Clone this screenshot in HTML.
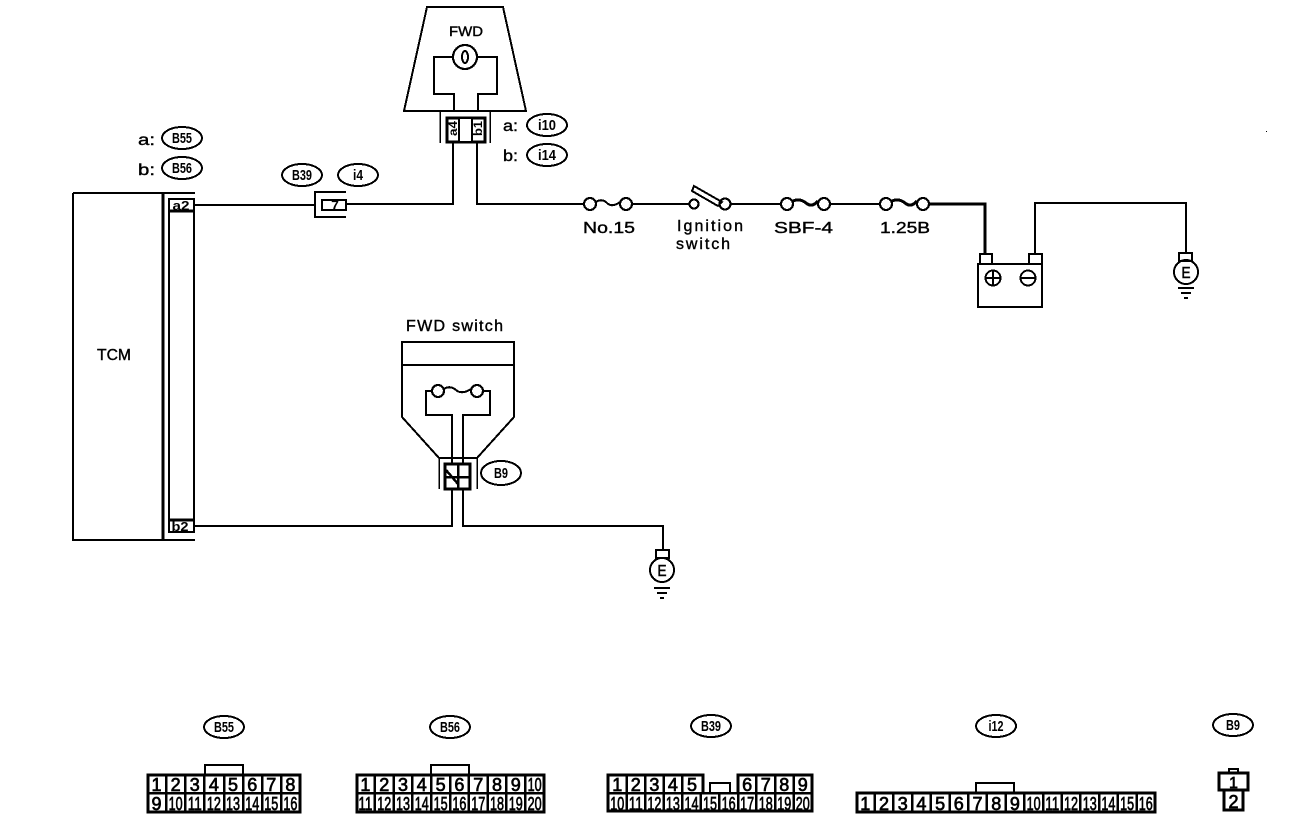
<!DOCTYPE html>
<html><head><meta charset="utf-8">
<style>
html,body{margin:0;padding:0;background:#fff;width:1312px;height:836px;overflow:hidden}
svg{display:block}
text{font-family:"Liberation Sans",sans-serif;fill:#000;stroke:none}
.l{font-size:16px;stroke:#000;stroke-width:.4px}
.o{font-size:15px;font-weight:bold;text-anchor:middle}
.d{font-size:18px;text-anchor:middle;stroke:#000;stroke-width:.7px}
.n{font-size:16px;text-anchor:middle;stroke:#000;stroke-width:.6px}
.s{fill:none;stroke:#000;stroke-width:2}
.t{fill:none;stroke:#000;stroke-width:3}
.c{fill:#fff;stroke:#000;stroke-width:2.2}
.v{fill:none;stroke:#000;stroke-width:2.5}
</style></head><body>
<svg width="1312" height="836" viewBox="0 0 1312 836" xmlns="http://www.w3.org/2000/svg" shape-rendering="crispEdges">
<!-- Lamp -->
<path class="s" d="M427 7H503L526 111H404Z"/>
<path class="s" d="M453 57H434V94H454V111M477 57H497V94H478V111"/>
<circle class="c" cx="465" cy="57" r="12"/>
<ellipse cx="465" cy="57" rx="3" ry="6" class="s"/>
<text class="l" x="449" y="36" font-size="14" textLength="34" lengthAdjust="spacingAndGlyphs" style="font-size:14px">FWD</text>
<path d="M440 112V143M490 112V143" stroke="#000" stroke-width="1.5" fill="none"/>
<rect class="t" x="447" y="118" width="38" height="24"/>
<rect x="459" y="118" width="13" height="24" fill="#fff" stroke="#000" stroke-width="2"/>
<text transform="translate(457 136) rotate(-90)" style="font-size:12px;font-weight:bold" textLength="15" lengthAdjust="spacingAndGlyphs">a4</text>
<text transform="translate(482 136) rotate(-90)" style="font-size:12px;font-weight:bold" textLength="15" lengthAdjust="spacingAndGlyphs">b1</text>
<path class="s" d="M453 142V204H347M477 142V204H584"/>
<text class="l" x="503" y="131" textLength="15" lengthAdjust="spacingAndGlyphs">a:</text>
<text class="l" x="503" y="161" textLength="15" lengthAdjust="spacingAndGlyphs">b:</text>
<ellipse class="s" cx="547" cy="125" rx="20" ry="11"/><text class="o" x="547" y="130" textLength="18" lengthAdjust="spacingAndGlyphs">i10</text>
<ellipse class="s" cx="547" cy="155" rx="20" ry="11"/><text class="o" x="547" y="160" textLength="18" lengthAdjust="spacingAndGlyphs">i14</text>
<!-- TCM -->
<path class="s" d="M73 193H195M73 193V540H195"/>
<path class="t" d="M163 193V540"/>
<rect class="s" x="169" y="199" width="25" height="333"/>
<path class="t" d="M169 211H194M169 520H194"/>
<text class="o" x="181" y="210" style="font-size:13px" textLength="17" lengthAdjust="spacingAndGlyphs">a2</text>
<text class="o" x="180" y="531" style="font-size:13px" textLength="17" lengthAdjust="spacingAndGlyphs">b2</text>
<text class="l" x="97" y="360" textLength="34" lengthAdjust="spacingAndGlyphs">TCM</text>
<text class="l" x="138" y="145" textLength="17" lengthAdjust="spacingAndGlyphs">a:</text>
<text class="l" x="138" y="175" textLength="17" lengthAdjust="spacingAndGlyphs">b:</text>
<ellipse class="s" cx="182" cy="138" rx="20" ry="11"/><text class="o" x="182" y="143" textLength="20" lengthAdjust="spacingAndGlyphs">B55</text>
<ellipse class="s" cx="182" cy="168" rx="20" ry="11"/><text class="o" x="182" y="173" textLength="20" lengthAdjust="spacingAndGlyphs">B56</text>
<ellipse class="s" cx="302" cy="175" rx="20" ry="11"/><text class="o" x="302" y="180" textLength="20" lengthAdjust="spacingAndGlyphs">B39</text>
<ellipse class="s" cx="358" cy="175" rx="20" ry="11"/><text class="o" x="358" y="180" textLength="10" lengthAdjust="spacingAndGlyphs">i4</text>
<path class="s" d="M194 205H314"/>
<path class="s" d="M346 192H315V217H346"/>
<rect class="s" x="322" y="200" width="24" height="10"/>
<text class="o" x="335" y="210" style="font-size:14px">7</text>
<!-- Fuses and switch -->
<circle class="c" cx="590" cy="204" r="6"/><circle class="c" cx="626" cy="204" r="6"/>
<path class="s" d="M596 202Q602 198 607 203T620 202"/>
<path class="s" d="M632 204H689"/>
<circle class="c" cx="694" cy="204" r="4.500"/><circle class="c" cx="725" cy="204" r="5.500"/>
<path class="s" d="M694 186L722 202L718 206L692 191Z"/>
<path class="s" d="M731 204H781"/>
<circle class="c" cx="787" cy="204" r="6"/><circle class="c" cx="824" cy="204" r="6"/>
<path class="t" d="M793 201Q800 198 806 203T818 201"/>
<path class="s" d="M830 204H880"/>
<circle class="c" cx="886" cy="204" r="6"/><circle class="c" cx="923" cy="204" r="6"/>
<path class="t" d="M892 201Q899 198 905 203T917 201"/>
<path class="t" d="M929 204H985V254"/>
<text class="l" x="583" y="233" textLength="52" lengthAdjust="spacingAndGlyphs">No.15</text>
<text class="l" x="677" y="231" textLength="66" lengthAdjust="spacing">Ignition</text>
<text class="l" x="676" y="249" textLength="54" lengthAdjust="spacing">switch</text>
<text class="l" x="774" y="233" textLength="59" lengthAdjust="spacingAndGlyphs">SBF-4</text>
<text class="l" x="880" y="233" textLength="50" lengthAdjust="spacingAndGlyphs">1.25B</text>
<!-- Battery -->
<rect class="s" x="978" y="264" width="64" height="43"/>
<rect class="s" x="980" y="254" width="12" height="10"/>
<rect class="s" x="1029" y="254" width="13" height="10"/>
<circle class="s" cx="993" cy="278" r="7.500"/><circle class="s" cx="1028" cy="278" r="7.500"/>
<path d="M985 278H1001M993 270V286M1020 278H1036" stroke="#000" stroke-width="2" fill="none"/>
<path class="s" d="M1035 254V203H1186V253"/>
<!-- Ground right -->
<rect class="s" x="1179" y="253" width="13" height="8"/>
<circle class="s" cx="1186" cy="272" r="12"/>
<text class="n" x="1186" y="278" textLength="9" lengthAdjust="spacingAndGlyphs">E</text>
<path d="M1178 288H1194M1181 293H1191M1184 298H1188" stroke="#000" stroke-width="2" fill="none"/>
<!-- FWD switch -->
<text class="l" x="406" y="331" textLength="97" lengthAdjust="spacing">FWD switch</text>
<path class="s" d="M402 365V342H514V365M402 365H514"/>
<path class="s" d="M402 365V417L439 458H477L514 417V365"/>
<circle class="c" cx="438" cy="391" r="6"/><circle class="c" cx="477" cy="391" r="6"/>
<path class="s" d="M444 389Q450 385 456 390T471 389"/>
<path class="s" d="M432 391H426V415H452V464M483 391H490V415H463V464"/>
<path d="M439 458V489M477 458V489" stroke="#000" stroke-width="1.500" fill="none"/>
<rect class="t" x="445" y="464" width="25" height="25" fill="#fff"/>
<path d="M458 464V489M445 477H470M446 470L458 484" stroke="#000" stroke-width="2.500" fill="none"/>
<ellipse class="s" cx="501" cy="473" rx="20" ry="12"/><text class="o" x="501" y="478" textLength="14" lengthAdjust="spacingAndGlyphs">B9</text>
<path class="s" d="M194 526H452V489M463 489V526H663V550"/>
<!-- Ground lower -->
<rect class="s" x="656" y="550" width="13" height="8"/>
<circle class="s" cx="662" cy="570" r="12"/>
<text class="n" x="662" y="576" textLength="9" lengthAdjust="spacingAndGlyphs">E</text>
<path d="M654 588H670M657 593H667M660 598H664" stroke="#000" stroke-width="2" fill="none"/>
<!-- B55 -->
<ellipse class="s" cx="224" cy="727" rx="20" ry="11"/><text class="o" x="224" y="732" textLength="20" lengthAdjust="spacingAndGlyphs">B55</text>
<path class="s" d="M205 775V765H243V775"/>
<rect class="t" x="148" y="775" width="152" height="37"/>
<path class="v" d="M148 793H300M166 775V812M185 775V812M204 775V812M224 775V812M243 775V812M262 775V812M281 775V812"/>
<text class="d" x="156.500" y="791">1</text><text class="d" x="175.600" y="791">2</text><text class="d" x="194.800" y="791">3</text><text class="d" x="213.900" y="791">4</text><text class="d" x="233" y="791">5</text><text class="d" x="252.200" y="791">6</text><text class="d" x="271.300" y="791">7</text><text class="d" x="290.400" y="791">8</text>
<text class="d" x="156.500" y="810">9</text>
<text class="d" x="175.600" y="810" textLength="14" lengthAdjust="spacingAndGlyphs">10</text><text class="d" x="194.800" y="810" textLength="14" lengthAdjust="spacingAndGlyphs">11</text><text class="d" x="213.900" y="810" textLength="14" lengthAdjust="spacingAndGlyphs">12</text><text class="d" x="233" y="810" textLength="14" lengthAdjust="spacingAndGlyphs">13</text><text class="d" x="252.200" y="810" textLength="14" lengthAdjust="spacingAndGlyphs">14</text><text class="d" x="271.300" y="810" textLength="14" lengthAdjust="spacingAndGlyphs">15</text><text class="d" x="290.400" y="810" textLength="14" lengthAdjust="spacingAndGlyphs">16</text>
<!-- B56 -->
<ellipse class="s" cx="450" cy="727" rx="20" ry="11"/><text class="o" x="450" y="732" textLength="20" lengthAdjust="spacingAndGlyphs">B56</text>
<path class="s" d="M431 775V765H469V775"/>
<rect class="t" x="357" y="775" width="187" height="37"/>
<path class="v" d="M357 793H544M374.800 775V812M393.600 775V812M412.400 775V812M431.200 775V812M450 775V812M468.800 775V812M487.600 775V812M506.400 775V812M525.200 775V812"/>
<text class="d" x="365.400" y="791">1</text><text class="d" x="384.200" y="791">2</text><text class="d" x="403" y="791">3</text><text class="d" x="421.800" y="791">4</text><text class="d" x="440.600" y="791">5</text><text class="d" x="459.400" y="791">6</text><text class="d" x="478.200" y="791">7</text><text class="d" x="497" y="791">8</text><text class="d" x="515.800" y="791">9</text><text class="d" x="534.600" y="791" textLength="14" lengthAdjust="spacingAndGlyphs">10</text>
<text class="d" x="365.400" y="810" textLength="14" lengthAdjust="spacingAndGlyphs">11</text><text class="d" x="384.200" y="810" textLength="14" lengthAdjust="spacingAndGlyphs">12</text><text class="d" x="403" y="810" textLength="14" lengthAdjust="spacingAndGlyphs">13</text><text class="d" x="421.800" y="810" textLength="14" lengthAdjust="spacingAndGlyphs">14</text><text class="d" x="440.600" y="810" textLength="14" lengthAdjust="spacingAndGlyphs">15</text><text class="d" x="459.400" y="810" textLength="14" lengthAdjust="spacingAndGlyphs">16</text><text class="d" x="478.200" y="810" textLength="14" lengthAdjust="spacingAndGlyphs">17</text><text class="d" x="497" y="810" textLength="14" lengthAdjust="spacingAndGlyphs">18</text><text class="d" x="515.800" y="810" textLength="14" lengthAdjust="spacingAndGlyphs">19</text><text class="d" x="534.600" y="810" textLength="14" lengthAdjust="spacingAndGlyphs">20</text>
<!-- B39 -->
<ellipse class="s" cx="711" cy="726" rx="20" ry="11"/><text class="o" x="711" y="731" textLength="20" lengthAdjust="spacingAndGlyphs">B39</text>
<path class="s" d="M710 793V783H730V793"/>
<path class="t" d="M608 793V775H703V793M738 793V775H812V793M608 793V811H812V793"/>
<path class="v" d="M608 793H812M626.600 775V811M645.100 775V811M663.700 775V811M682.200 775V811M703 775V793M700.800 793V811M719.300 793V811M738 775V811M756.400 775V811M775 775V811M793.500 775V811"/>
<text class="d" x="617.300" y="791">1</text><text class="d" x="635.800" y="791">2</text><text class="d" x="654.400" y="791">3</text><text class="d" x="672.900" y="791">4</text><text class="d" x="692" y="791">5</text><text class="d" x="747.100" y="791">6</text><text class="d" x="765.700" y="791">7</text><text class="d" x="784.200" y="791">8</text><text class="d" x="802.800" y="791">9</text>
<text class="d" x="617.300" y="810" textLength="14" lengthAdjust="spacingAndGlyphs">10</text><text class="d" x="635.800" y="810" textLength="14" lengthAdjust="spacingAndGlyphs">11</text><text class="d" x="654.400" y="810" textLength="14" lengthAdjust="spacingAndGlyphs">12</text><text class="d" x="672.900" y="810" textLength="14" lengthAdjust="spacingAndGlyphs">13</text><text class="d" x="691.500" y="810" textLength="14" lengthAdjust="spacingAndGlyphs">14</text><text class="d" x="710" y="810" textLength="14" lengthAdjust="spacingAndGlyphs">15</text><text class="d" x="728.600" y="810" textLength="14" lengthAdjust="spacingAndGlyphs">16</text><text class="d" x="747.100" y="810" textLength="14" lengthAdjust="spacingAndGlyphs">17</text><text class="d" x="765.700" y="810" textLength="14" lengthAdjust="spacingAndGlyphs">18</text><text class="d" x="784.200" y="810" textLength="14" lengthAdjust="spacingAndGlyphs">19</text><text class="d" x="802.800" y="810" textLength="14" lengthAdjust="spacingAndGlyphs">20</text>
<!-- i12 -->
<ellipse class="s" cx="996" cy="726" rx="20" ry="11"/><text class="o" x="996" y="731" textLength="15" lengthAdjust="spacingAndGlyphs">i12</text>
<path class="s" d="M976 793V783H1014V793"/>
<rect class="t" x="857" y="793" width="298" height="19"/>
<path class="v" d="M874.700 793V812M893.400 793V812M912.100 793V812M930.800 793V812M949.500 793V812M968.200 793V812M986.900 793V812M1005.600 793V812M1024.300 793V812M1043 793V812M1061.700 793V812M1080.400 793V812M1099.100 793V812M1117.800 793V812M1136.500 793V812"/>
<text class="d" x="865.300" y="810">1</text><text class="d" x="884" y="810">2</text><text class="d" x="902.700" y="810">3</text><text class="d" x="921.400" y="810">4</text><text class="d" x="940.100" y="810">5</text><text class="d" x="958.800" y="810">6</text><text class="d" x="977.500" y="810">7</text><text class="d" x="996.200" y="810">8</text><text class="d" x="1014.900" y="810">9</text>
<text class="d" x="1033.600" y="810" textLength="14" lengthAdjust="spacingAndGlyphs">10</text><text class="d" x="1052.300" y="810" textLength="14" lengthAdjust="spacingAndGlyphs">11</text><text class="d" x="1071" y="810" textLength="14" lengthAdjust="spacingAndGlyphs">12</text><text class="d" x="1089.700" y="810" textLength="14" lengthAdjust="spacingAndGlyphs">13</text><text class="d" x="1108.400" y="810" textLength="14" lengthAdjust="spacingAndGlyphs">14</text><text class="d" x="1127.100" y="810" textLength="14" lengthAdjust="spacingAndGlyphs">15</text><text class="d" x="1145.800" y="810" textLength="14" lengthAdjust="spacingAndGlyphs">16</text>
<!-- B9 -->
<ellipse class="s" cx="1233" cy="725" rx="20" ry="11"/><text class="o" x="1233" y="730" textLength="14" lengthAdjust="spacingAndGlyphs">B9</text>
<rect class="s" x="1229" y="769" width="9" height="4"/>
<rect class="t" x="1219" y="773" width="29" height="17"/>
<rect class="t" x="1224" y="790" width="19" height="20"/>
<text class="d" x="1233.500" y="788" style="font-size:16px">1</text>
<text class="d" x="1233.500" y="808">2</text>
<rect x="1266" y="131" width="1" height="1" fill="#000"/>
</svg>
</body></html>
